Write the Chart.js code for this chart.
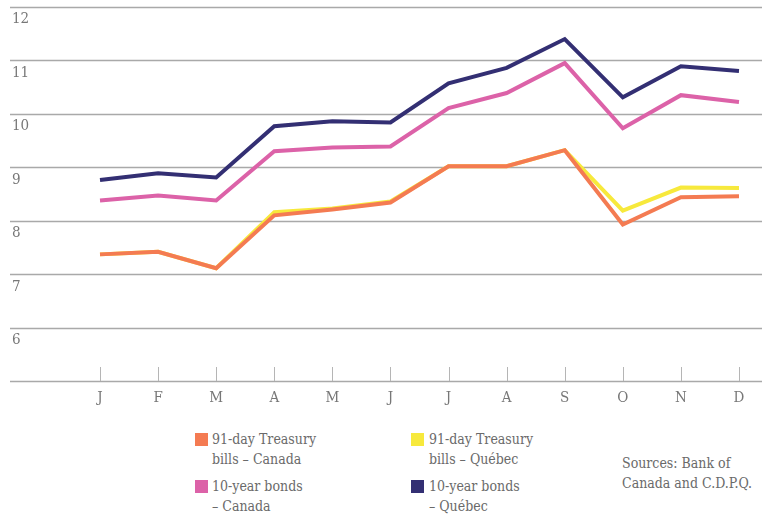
<!DOCTYPE html>
<html>
<head>
<meta charset="utf-8">
<script src="https://cdn.jsdelivr.net/npm/chart.js@4"></script>
<style>
    body { margin: 0; background: #fff; width: 762px; height: 517px; overflow: hidden; position: relative; }
    #wrap { position: absolute; left: 0; top: 0; width: 762px; height: 415px; }
    .txt { font-family: "DejaVu Serif Condensed", "Liberation Sans Narrow", serif; font-stretch: condensed; color: #6a6a6a; font-size: 14px; line-height: 20px; position: absolute; }
    .sw { position: absolute; width: 13px; height: 13px; }
</style>
</head>
<body>
<div id="wrap"><canvas id="ratesChart"></canvas></div>

<div class="sw" style="left:195px;top:433px;background:#f47b52"></div>
<div class="txt" style="left:212px;top:429px">91-day Treasury<br>bills – Canada</div>
<div class="sw" style="left:195px;top:480px;background:#dc62a8"></div>
<div class="txt" style="left:212px;top:476px">10-year bonds<br>– Canada</div>
<div class="sw" style="left:411px;top:433px;background:#f7e93c"></div>
<div class="txt" style="left:429px;top:429px">91-day Treasury<br>bills – Québec</div>
<div class="sw" style="left:411px;top:480px;background:#332f73"></div>
<div class="txt" style="left:429px;top:476px">10-year bonds<br>– Québec</div>
<div class="txt" style="left:622px;top:453px;white-space:nowrap">Sources: Bank of<br>Canada and C.D.P.Q.</div>

<script>
// mois de l'année
const months = ['J', 'F', 'M', 'A', 'M', 'J', 'J', 'A', 'S', 'O', 'N', 'D'];
const yTicks = [6, 7, 8, 9, 10, 11, 12];

// taux en pourcentage
const tbillsCanada = [7.37, 7.42, 7.11, 8.10, 8.21, 8.34, 9.02, 9.02, 9.32, 7.93, 8.44, 8.46];
const tbillsQuebec = [7.37, 7.42, 7.11, 8.16, 8.23, 8.36, 9.02, 9.02, 9.32, 8.19, 8.62, 8.61];
const bondsCanada = [8.38, 8.47, 8.38, 9.30, 9.37, 9.39, 10.11, 10.39, 10.95, 9.73, 10.35, 10.22];
const bondsQuebec = [8.76, 8.89, 8.81, 9.77, 9.86, 9.84, 10.57, 10.86, 11.40, 10.31, 10.89, 10.80];

const labelFont = '15px "DejaVu Serif Condensed", "Liberation Sans Narrow", serif';

// lignes horizontales, étiquettes et petites marques
const gridPlugin = {
    id: 'gridPlugin',
    beforeDatasetsDraw(chart) {
        const { ctx, scales: { x, y } } = chart;
        ctx.save();
        ctx.strokeStyle = '#a9a9a9';
        ctx.lineWidth = 1.3;
        [5, ...yTicks].forEach(v => {
            const py = Math.round(y.getPixelForValue(v)) + 0.5;
            ctx.beginPath();
            ctx.moveTo(10, py);
            ctx.lineTo(chart.width, py);
            ctx.stroke();
        });
        ctx.fillStyle = '#777';
        ctx.font = labelFont;
        ctx.textBaseline = 'top';
        yTicks.forEach(v => {
            ctx.fillText(String(v), 12, y.getPixelForValue(v) + 5);
        });
        const base = y.getPixelForValue(5);
        ctx.strokeStyle = '#b5b5b5';
        ctx.lineWidth = 1;
        months.forEach((m, i) => {
            const px = Math.round(x.getPixelForValue(i)) + 0.5;
            ctx.beginPath();
            ctx.moveTo(px, base - 14);
            ctx.lineTo(px, base);
            ctx.stroke();
        });
        ctx.restore();
    }
};

const mkLine = (label, data, color) => ({
    label: label,
    data: data,
    borderColor: color,
    borderWidth: 4,
    pointRadius: 0,
    tension: 0,
    fill: false,
});

new Chart(document.getElementById('ratesChart').getContext('2d'), {
    type: 'line',
    data: {
        labels: months,
        datasets: [
            mkLine('91-day Treasury bills – Canada', tbillsCanada, '#f47b52'),
            mkLine('91-day Treasury bills – Québec', tbillsQuebec, '#f7e93c'),
            mkLine('10-year bonds – Canada', bondsCanada, '#dc62a8'),
            mkLine('10-year bonds – Québec', bondsQuebec, '#332f73'),
        ]
    },
    options: {
        responsive: true,
        maintainAspectRatio: false,
        animation: false,
        layout: { padding: { left: 100, right: 23, top: 7, bottom: 0 } },
        plugins: { legend: { display: false }, tooltip: { enabled: false } },
        scales: {
            x: {
                offset: false,
                grid: { display: false, drawTicks: false },
                border: { display: false },
                ticks: { color: '#777', font: { family: '"DejaVu Serif Condensed", "Liberation Sans Narrow", serif', size: 15 }, padding: 8, maxRotation: 0, autoSkip: false }
            },
            y: {
                display: false,
                min: 5,
                max: 12
            }
        }
    },
    plugins: [gridPlugin]
});
</script>
</body>
</html>
